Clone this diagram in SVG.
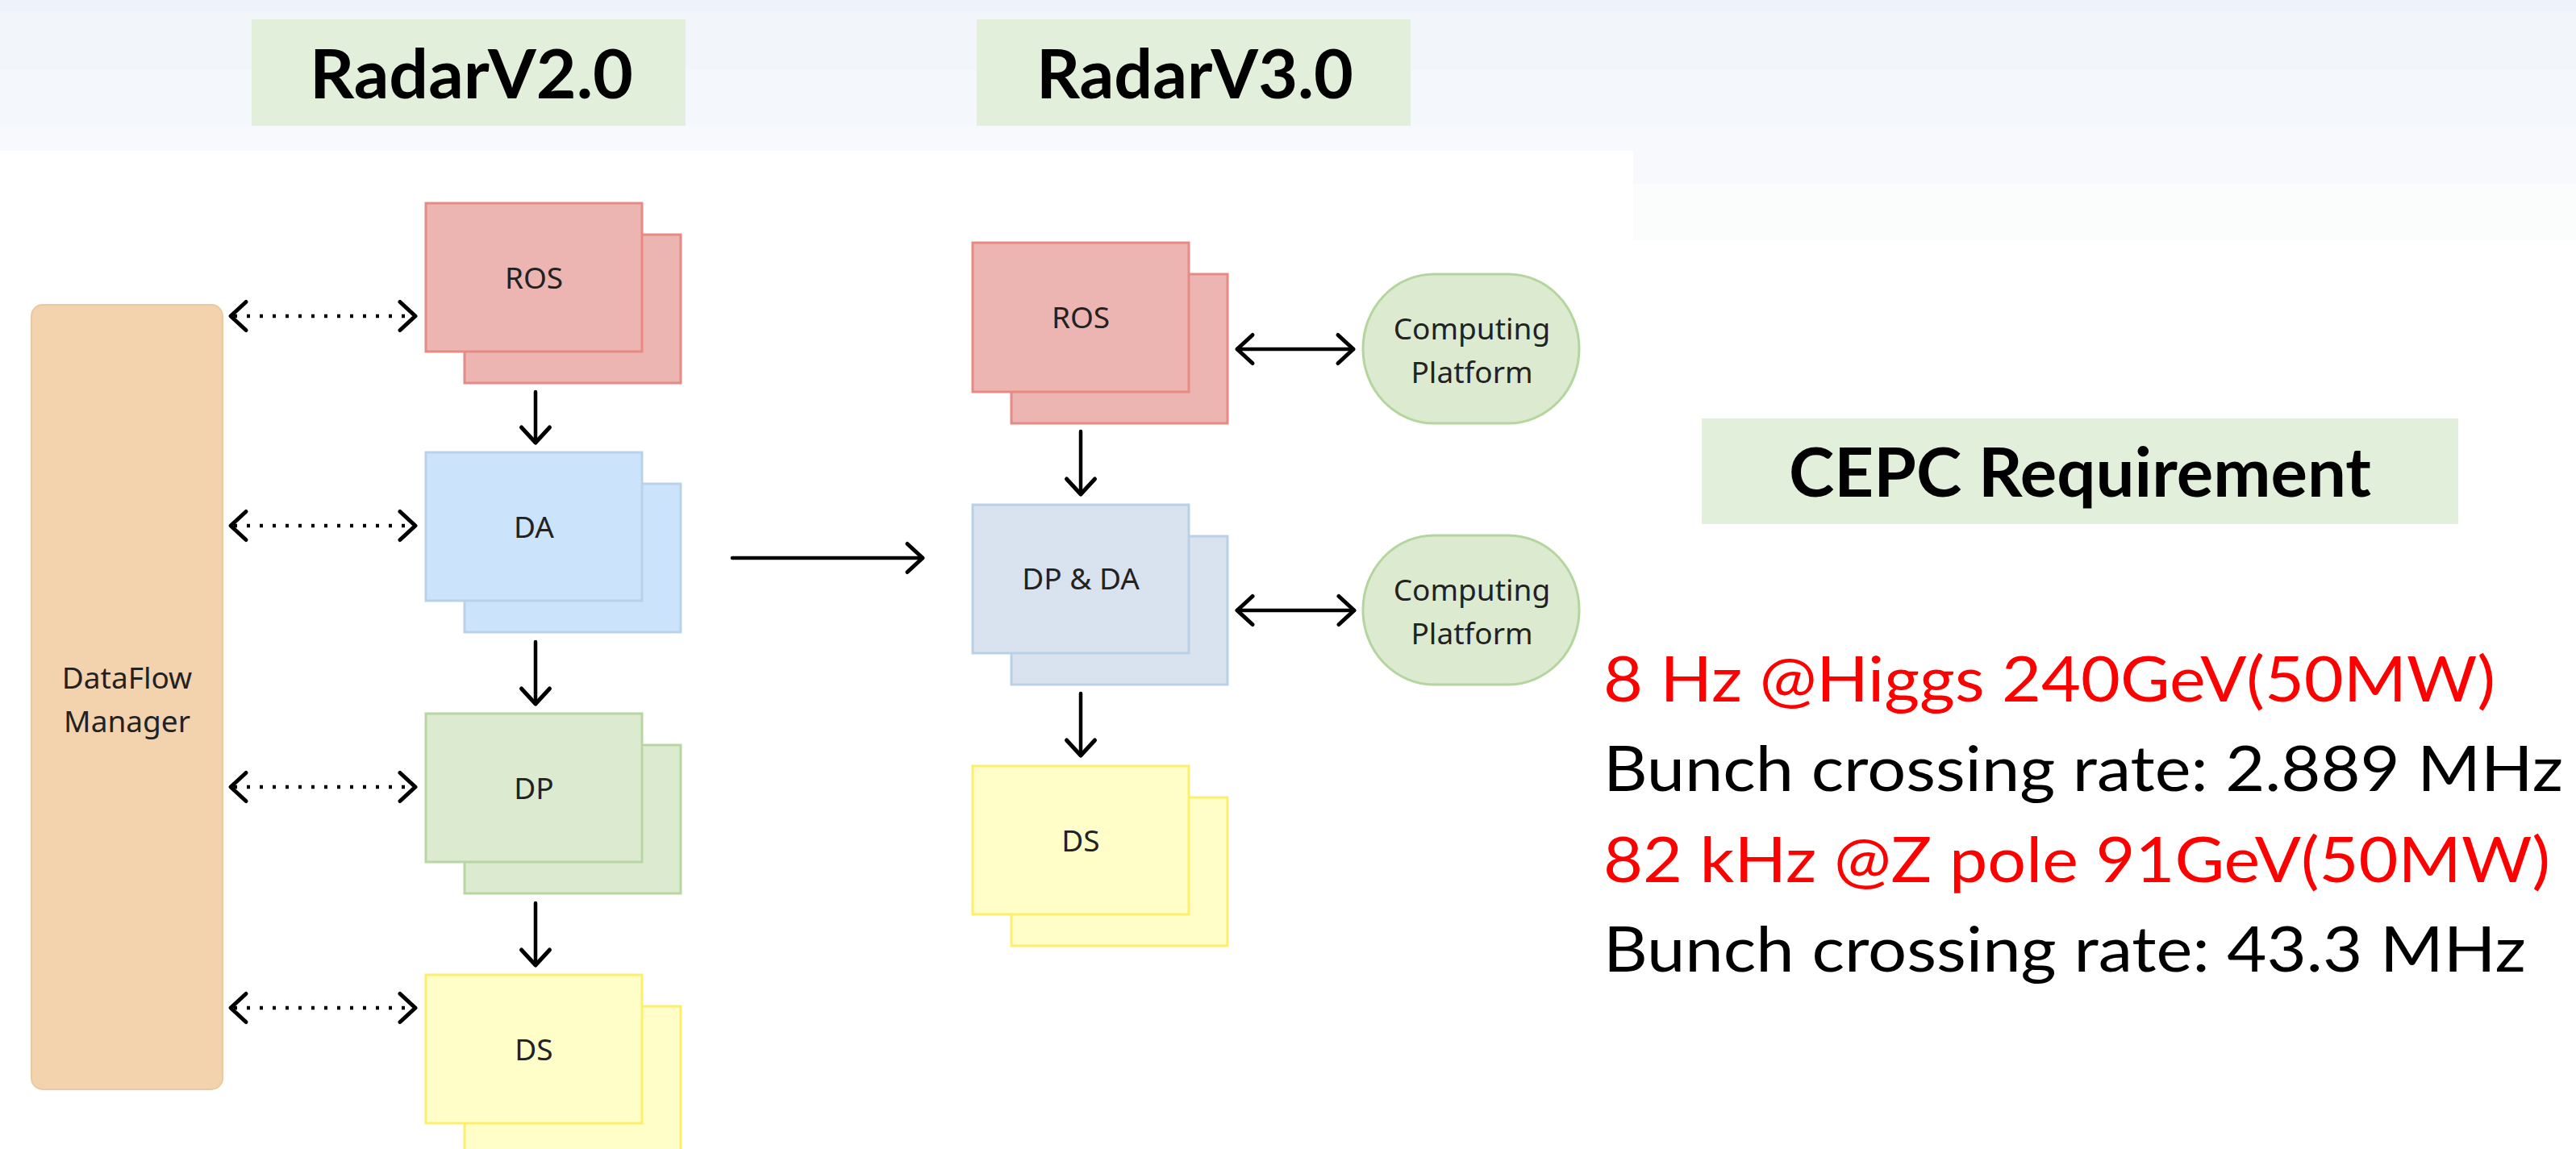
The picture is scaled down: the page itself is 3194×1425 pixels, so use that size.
<svg xmlns="http://www.w3.org/2000/svg" width="3194" height="1425" viewBox="0 0 3194 1425">
  <style>
    .lbl { font-family: "Noto Sans", "Open Sans", sans-serif; font-size: 37px; fill: #222; text-anchor: middle; }
    .title { font-family: Lato, "Liberation Sans", sans-serif; font-weight: bold; fill: #000; }
    .req { font-family: Lato, "Liberation Sans", sans-serif; font-size: 78px; }
    .red { fill: #ff0000; }
    .blk { fill: #000; }
    .box { stroke-width: 3; }
    .ros { fill: #edb5b1; stroke: #e68a83; }
    .da { fill: #cce4fb; stroke: #b9d2ea; }
    .dp { fill: #dcebd0; stroke: #b7d6a2; }
    .ds { fill: #fffdc8; stroke: #fdef6c; }
    .dpda { fill: #d8e3ef; stroke: #bad0e6; }
    .cp { fill: #dcebd0; stroke: #b4d59e; stroke-width: 3; }
    .conn { fill: none; stroke: #000; stroke-width: 4.5; stroke-linecap: round; }
    .dot { fill: none; stroke: #000; stroke-width: 4.5; stroke-dasharray: 4 12; }
  </style>
  <defs>
    <marker id="chev" markerUnits="userSpaceOnUse" viewBox="-26 -24 32 48" markerWidth="32" markerHeight="48" refX="0" refY="0" orient="auto-start-reverse">
      <path d="M -19 -17.5 L 0 0 L -19 17.5" fill="none" stroke="#000" stroke-width="5" stroke-linecap="round" stroke-linejoin="round"/>
    </marker>
  </defs>

  <!-- page background: soft banded top fading into white -->
  <g id="background">
    <rect x="0" y="0" width="3194" height="1425" fill="#ffffff"/>
    <rect x="0" y="0" width="3194" height="14" fill="#eef2fa"/>
    <rect x="0" y="14" width="3194" height="72" fill="#f2f5fa"/>
    <rect x="0" y="86" width="3194" height="71" fill="#f4f7fb"/>
    <rect x="0" y="157" width="3194" height="71" fill="#f8f9fc"/>
    <rect x="0" y="228" width="3194" height="70" fill="#fbfcfc"/>
    <rect x="0" y="187" width="2025" height="1238" fill="#ffffff"/>
  </g>

  <!-- section titles -->
  <g id="title-v2">
    <rect x="312" y="24" width="538" height="132" fill="#e2efda"/>
    <text class="title" x="384" y="122" font-size="84" textLength="401" lengthAdjust="spacingAndGlyphs">RadarV2.0</text>
  </g>
  <g id="title-v3">
    <rect x="1211" y="24" width="538" height="132" fill="#e2efda"/>
    <text class="title" x="1285" y="122" font-size="84" textLength="393" lengthAdjust="spacingAndGlyphs">RadarV3.0</text>
  </g>

  <!-- RadarV2.0 chain -->
  <g id="dataflow-manager">
    <rect x="39" y="378" width="237" height="973" rx="14" ry="14" fill="#f3d3ae" stroke="#ebc9a0" stroke-width="2"/>
    <text class="lbl" x="157.5" y="854">DataFlow</text>
    <text class="lbl" x="157.5" y="908">Manager</text>
  </g>
  <g id="v2-ros">
    <rect class="box ros" x="576" y="291" width="268" height="184"/>
    <rect class="box ros" x="528" y="252" width="268" height="184"/>
    <text class="lbl" x="662" y="358">ROS</text>
  </g>
  <g id="v2-da">
    <rect class="box da" x="576" y="600" width="268" height="184"/>
    <rect class="box da" x="528" y="561" width="268" height="184"/>
    <text class="lbl" x="662" y="667">DA</text>
  </g>
  <g id="v2-dp">
    <rect class="box dp" x="576" y="924" width="268" height="184"/>
    <rect class="box dp" x="528" y="885" width="268" height="184"/>
    <text class="lbl" x="662" y="991">DP</text>
  </g>
  <g id="v2-ds">
    <rect class="box ds" x="576" y="1248" width="268" height="184"/>
    <rect class="box ds" x="528" y="1209" width="268" height="184"/>
    <text class="lbl" x="662" y="1315">DS</text>
  </g>

  <!-- RadarV3.0 chain -->
  <g id="v3-ros">
    <rect class="box ros" x="1254" y="340" width="268" height="185"/>
    <rect class="box ros" x="1206" y="301" width="268" height="185"/>
    <text class="lbl" x="1340" y="407">ROS</text>
  </g>
  <g id="v3-dpda">
    <rect class="box dpda" x="1254" y="665" width="268" height="184"/>
    <rect class="box dpda" x="1206" y="626" width="268" height="184"/>
    <text class="lbl" x="1340" y="731">DP &amp; DA</text>
  </g>
  <g id="v3-ds">
    <rect class="box ds" x="1254" y="989" width="268" height="184"/>
    <rect class="box ds" x="1206" y="950" width="268" height="184"/>
    <text class="lbl" x="1340" y="1056">DS</text>
  </g>
  <g id="computing-platform-1">
    <rect class="cp" x="1690" y="340" width="268" height="185" rx="88" ry="92"/>
    <text class="lbl" x="1825" y="421">Computing</text>
    <text class="lbl" x="1825" y="475">Platform</text>
  </g>
  <g id="computing-platform-2">
    <rect class="cp" x="1690" y="664" width="268" height="185" rx="88" ry="92"/>
    <text class="lbl" x="1825" y="745">Computing</text>
    <text class="lbl" x="1825" y="799">Platform</text>
  </g>

  <!-- requirements panel -->
  <g id="cepc-requirement">
    <rect x="2110" y="519" width="938" height="131" fill="#e2efda"/>
    <text class="title" x="2218" y="616" font-size="85" textLength="722" lengthAdjust="spacingAndGlyphs">CEPC Requirement</text>
  </g>
  <g id="requirement-lines">
    <text class="req red" x="1988" y="870" textLength="1106" lengthAdjust="spacingAndGlyphs">8 Hz @Higgs 240GeV(50MW)</text>
    <text class="req blk" x="1988" y="981" textLength="1190" lengthAdjust="spacingAndGlyphs">Bunch crossing rate: 2.889 MHz</text>
    <text class="req red" x="1988" y="1094" textLength="1174" lengthAdjust="spacingAndGlyphs">82 kHz @Z pole 91GeV(50MW)</text>
    <text class="req blk" x="1988" y="1205" textLength="1144" lengthAdjust="spacingAndGlyphs">Bunch crossing rate: 43.3 MHz</text>
  </g>

  <!-- connectors -->
  <g id="connectors">
    <!-- DataFlow Manager control links -->
    <line class="dot" x1="290" y1="392" x2="512" y2="392"/>
    <line class="dot" x1="290" y1="652" x2="512" y2="652"/>
    <line class="dot" x1="290" y1="976" x2="512" y2="976"/>
    <line class="dot" x1="290" y1="1250" x2="512" y2="1250"/>
    <path class="conn" d="M 286 392 L 515 392" stroke-opacity="0" marker-start="url(#chev)" marker-end="url(#chev)"/>
    <path class="conn" d="M 286 652 L 515 652" stroke-opacity="0" marker-start="url(#chev)" marker-end="url(#chev)"/>
    <path class="conn" d="M 286 976 L 515 976" stroke-opacity="0" marker-start="url(#chev)" marker-end="url(#chev)"/>
    <path class="conn" d="M 286 1250 L 515 1250" stroke-opacity="0" marker-start="url(#chev)" marker-end="url(#chev)"/>

    <!-- V2 data path -->
    <path class="conn" d="M 664 486 L 664 549" marker-end="url(#chev)"/>
    <path class="conn" d="M 664 796 L 664 873" marker-end="url(#chev)"/>
    <path class="conn" d="M 664 1120 L 664 1197" marker-end="url(#chev)"/>

    <!-- upgrade arrow -->
    <path class="conn" d="M 908 692 L 1144 692" marker-end="url(#chev)"/>

    <!-- V3 data path -->
    <path class="conn" d="M 1340 535 L 1340 613" marker-end="url(#chev)"/>
    <path class="conn" d="M 1340 860 L 1340 937" marker-end="url(#chev)"/>

    <!-- links to computing platforms -->
    <path class="conn" d="M 1534 433 L 1678 433" marker-start="url(#chev)" marker-end="url(#chev)"/>
    <path class="conn" d="M 1534 757 L 1679 757" marker-start="url(#chev)" marker-end="url(#chev)"/>
  </g>
</svg>
